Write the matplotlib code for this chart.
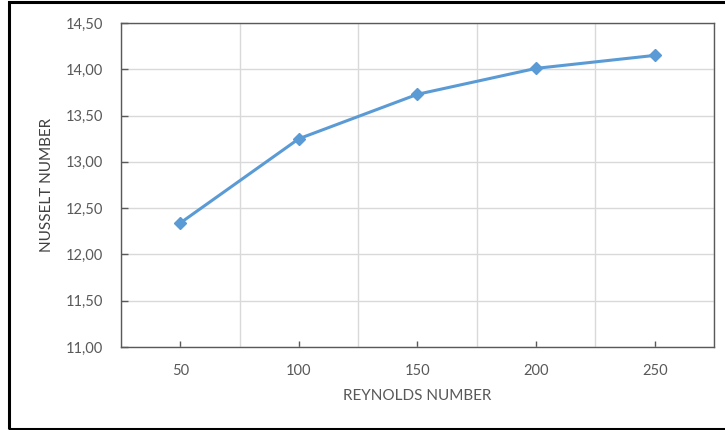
import matplotlib.pyplot as plt
from matplotlib.patches import Rectangle

reynolds = [50, 100, 150, 200, 250]
nusselt = [12.34, 13.25, 13.73, 14.01, 14.15]
y_ticks = [11.0, 11.5, 12.0, 12.5, 13.0, 13.5, 14.0, 14.5]

plt.rcParams['font.family'] = ['Lato', 'DejaVu Sans']

fig = plt.figure(figsize=(7.25, 4.30), dpi=100)
ax = fig.add_axes([121 / 725, 1 - 347 / 430, 593 / 725, 324 / 430])

ax.plot(reynolds, nusselt, color='#5B9BD5', linewidth=2.2,
        marker='D', markersize=6.5, zorder=3)

ax.set_xlim(25, 275)
ax.set_ylim(11.0, 14.5)

# gridlines every 25 on x (category boundaries), ticks only on categories
ax.set_xticks(reynolds)
ax.set_xticklabels([str(v) for v in reynolds])
ax.set_xticks([25 + 25 * i for i in range(11)], minor=True)
ax.set_yticks(y_ticks)
ax.set_yticklabels([f"{v:.2f}".replace('.', ',') for v in y_ticks])

ax.grid(True, which='minor', axis='x', color='#D9D9D9', linewidth=1)
ax.grid(True, which='major', axis='y', color='#D9D9D9', linewidth=1)
ax.set_axisbelow(True)

ax.tick_params(axis='x', which='major', direction='in', length=4, width=1,
               color='#595959', labelsize=10.5, labelcolor='#595959', pad=12)
ax.tick_params(axis='x', which='minor', length=0)
ax.tick_params(axis='y', direction='in', length=5, width=1,
               color='#595959', labelsize=10.5, labelcolor='#595959', pad=13)

for s in ax.spines.values():
    s.set_color('#595959')
    s.set_linewidth(1)

ax.set_xlabel('REYNOLDS NUMBER', fontsize=11, color='#595959', labelpad=8)
ax.set_ylabel('NUSSELT NUMBER', fontsize=11, color='#404040', labelpad=8)

# outer border of the chart frame
fig.patches.append(Rectangle((9 / 725, 1.5 / 430), 0.999, 1 - 3.5 / 430,
                             transform=fig.transFigure, fill=False,
                             edgecolor='black', linewidth=2.2))

fig.savefig('out.png', dpi=100)
